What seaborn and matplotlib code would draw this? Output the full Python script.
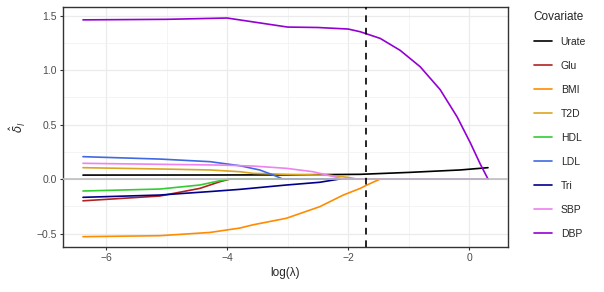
import matplotlib
matplotlib.use("Agg")
import matplotlib.pyplot as plt
from matplotlib.ticker import MultipleLocator
import pandas as pd
import seaborn as sns

# Coefficient paths (x = log(lambda), y = estimate)
urate_x = [-6.38, -4.12, -3.0, -1.8, -0.98, -0.15, 0.31]
urate_y = [0.036, 0.037, 0.038, 0.043, 0.061, 0.083, 0.104]

glu_x = [-6.38, -5.11, -4.45, -4.12, -3.95, 0.31]
glu_y = [-0.20, -0.156, -0.086, -0.025, 0.0, 0.0]

bmi_x = [-6.38, -5.11, -4.28, -3.79, -3.57, -3.02, -2.47, -2.08, -1.80, -1.69, -1.47, 0.31]
bmi_y = [-0.529, -0.52, -0.49, -0.45, -0.42, -0.36, -0.254, -0.147, -0.086, -0.055, 0.0, 0.0]

t2d_x = [-6.38, -5.11, -4.28, -3.79, -3.57, -3.02, -2.30, -2.0, -1.86, 0.31]
t2d_y = [0.104, 0.092, 0.083, 0.067, 0.052, 0.043, 0.034, 0.015, 0.0, 0.0]

hdl_x = [-6.38, -5.11, -4.45, -4.12, -3.95, 0.31]
hdl_y = [-0.11, -0.092, -0.055, -0.016, 0.0, 0.0]

ldl_x = [-6.38, -5.11, -4.28, -3.79, -3.46, -3.24, -3.08, 0.31]
ldl_y = [0.205, 0.183, 0.159, 0.122, 0.083, 0.037, 0.0, 0.0]

tri_x = [-6.38, -5.11, -4.28, -3.79, -3.02, -2.47, -2.14, 0.31]
tri_y = [-0.168, -0.147, -0.115, -0.095, -0.055, -0.03, 0.0, 0.0]

sbp_x = [-6.38, -5.11, -4.12, -3.57, -3.02, -2.58, -2.30, -2.08, 0.31]
sbp_y = [0.144, 0.135, 0.128, 0.119, 0.098, 0.067, 0.03, 0.0, 0.0]

dbp_x = [-6.38, -5.0, -4.0, -3.0, -2.5, -2.0, -1.80, -1.47, -1.14, -0.81,
         -0.48, -0.20, 0.02, 0.18, 0.31]
dbp_y = [1.46, 1.465, 1.477, 1.394, 1.39, 1.376, 1.351, 1.29, 1.18, 1.03,
         0.82, 0.57, 0.33, 0.14, 0.0]

covariates = ["Urate", "Glu", "BMI", "T2D", "HDL", "LDL", "Tri", "SBP", "DBP"]
colors = ["#000000", "#B22222", "#FF8C00", "#DAA520", "#32CD32",
          "#4169E1", "#00008B", "#EE82EE", "#9400D3"]
paths = {
    "Urate": (urate_x, urate_y), "Glu": (glu_x, glu_y), "BMI": (bmi_x, bmi_y),
    "T2D": (t2d_x, t2d_y), "HDL": (hdl_x, hdl_y), "LDL": (ldl_x, ldl_y),
    "Tri": (tri_x, tri_y), "SBP": (sbp_x, sbp_y), "DBP": (dbp_x, dbp_y),
}
lambda_min = -1.7

rows = []
for name in covariates:
    xs, ys = paths[name]
    for x, y in zip(xs, ys):
        rows.append({"Covariate": name, "loglam": x, "est": y})
df = pd.DataFrame(rows)

sns.set_style("white")
plt.rcParams["font.family"] = ["Liberation Sans", "DejaVu Sans"]

fig = plt.figure(figsize=(6.04, 2.92), dpi=100)
ax = fig.add_axes([0.1043, 0.154, 0.7367, 0.822])

sns.lineplot(data=df, x="loglam", y="est", hue="Covariate", hue_order=covariates,
             palette=colors, estimator=None, sort=False, units="Covariate",
             linewidth=1.2, ax=ax, legend=True)
ax.axhline(0, color="#BEBEBE", linewidth=1.2, zorder=5)
ax.axvline(lambda_min, color="black", linewidth=1.2, linestyle=(0, (4, 3.5)), zorder=6)

ax.set_xlim(-6.71, 0.64)
ax.set_ylim(-0.624, 1.578)
ax.xaxis.set_major_locator(MultipleLocator(2))
ax.xaxis.set_minor_locator(MultipleLocator(1))
ax.yaxis.set_major_locator(MultipleLocator(0.5))
ax.yaxis.set_minor_locator(MultipleLocator(0.25))
ax.grid(which="major", color="#EBEBEB", linewidth=0.9)
ax.grid(which="minor", color="#F2F2F2", linewidth=0.6)
ax.set_axisbelow(True)
for s in ax.spines.values():
    s.set_color("#333333")
    s.set_linewidth(1.0)
ax.tick_params(which="major", length=2.5, width=0.8, color="#333333",
               labelsize=7.5, labelcolor="#4D4D4D", pad=2, left=True, bottom=True)
ax.tick_params(which="minor", length=0)
ax.set_xticks([-6, -4, -2, 0])
ax.set_xticklabels(["\u22126", "\u22124", "\u22122", "0"])
ax.set_yticks([-0.5, 0.0, 0.5, 1.0, 1.5])
ax.set_yticklabels(["\u22120.5", "0.0", "0.5", "1.0", "1.5"])
ax.set_xlabel("log(\u03bb)", fontsize=8.5, labelpad=3)
ax.set_ylabel(r"$\hat{\delta}_l$", fontsize=8.5, labelpad=6)

handles, labels = ax.get_legend_handles_labels()
ax.legend(handles, labels, title="Covariate", loc="upper left",
          bbox_to_anchor=(0.868, 0.996), bbox_transform=fig.transFigure,
          frameon=False, fontsize=7.5, title_fontsize=8.5,
          labelspacing=1.35, handlelength=1.8, handletextpad=0.8,
          alignment="left")

fig.savefig("out.png", dpi=100)
